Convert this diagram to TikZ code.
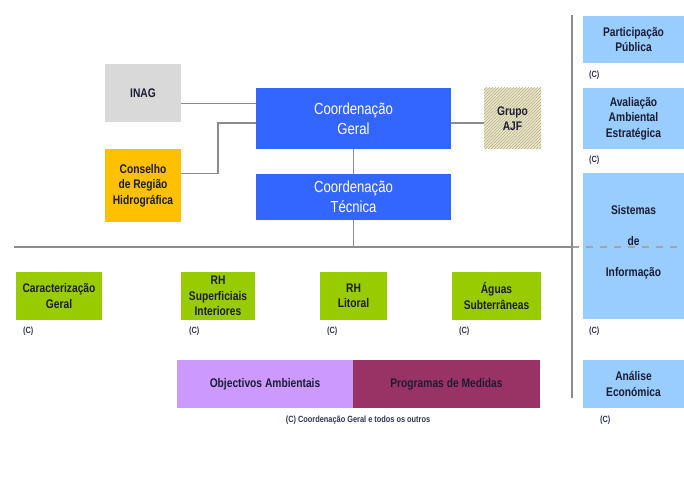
\documentclass[tikz,border=0pt]{standalone}
\usepackage{fontspec}
\setmainfont{Liberation Sans}[FakeStretch=0.82]
\usetikzlibrary{patterns}
\definecolor{inaggray}{HTML}{D9D9D9}
\definecolor{cblue}{HTML}{3366FF}
\definecolor{cgold}{HTML}{FFC000}
\definecolor{cbeige}{HTML}{ECE8CC}
\definecolor{chatch}{HTML}{B4AD84}
\definecolor{clight}{HTML}{99CCFF}
\definecolor{cgreen}{HTML}{99CC00}
\definecolor{cpurple}{HTML}{CC99FF}
\definecolor{cmaroon}{HTML}{993366}
\definecolor{txt}{HTML}{1C1C33}
\definecolor{cnote}{HTML}{2E3450}
\definecolor{linec}{HTML}{8C8C8C}
\begin{document}
\begin{tikzpicture}[x=1pt,y=-1pt,
  box/.style={draw=none, inner sep=1pt, align=center, text=txt,
    font=\bfseries\fontsize{12.5}{15.5}\selectfont},
  bigbox/.style={draw=none, fill=cblue, inner sep=1pt, align=center, text=white,
    minimum width=195pt, font=\fontsize{16}{20}\selectfont},
  note/.style={inner sep=0pt, anchor=west, text=cnote, font=\bfseries\fontsize{9}{10}\selectfont},
  conn/.style={draw=linec, line width=1.4pt}]
\useasboundingbox[fill=white] (0,0) rectangle (684,478);

% top group
\node[box, fill=inaggray, minimum width=76pt, minimum height=58pt] (inag) at (143,93) {INAG};
\node[box, fill=cgold, minimum width=76pt, minimum height=73pt] (cons) at (143,185.5) {Conselho\\de Região\\Hidrográfica};
\node[bigbox, minimum height=61pt] (cg) at (353.5,118.5) {Coordenação\\Geral};
\node[bigbox, minimum height=46pt] (ct) at (353.5,197) {Coordenação\\Técnica};
\node[box, fill=cbeige, postaction={pattern=north east lines, pattern color=chatch},
  minimum width=57pt, minimum height=61pt] (grupo) at (512.5,118.5) {Grupo\\AJF};

% right column
\node[box, fill=clight, minimum width=101pt, minimum height=47pt] (pp) at (633.5,39.5) {Participação\\Pública};
\node[box, fill=clight, minimum width=101pt, minimum height=61pt] (aae) at (633.5,118.5) {Avaliação\\Ambiental\\Estratégica};
\node[box, fill=clight, minimum width=101pt, minimum height=146pt, text depth=11pt,
  font=\bfseries\fontsize{12.5}{31}\selectfont] (si) at (633.5,246) {Sistemas\\de\\Informação};
\node[box, fill=clight, minimum width=101pt, minimum height=48pt] (ae) at (633.5,384) {Análise\\Económica};

% green row
\node[box, fill=cgreen, minimum width=86pt, minimum height=48pt] (cgeral) at (59,296) {Caracterização\\Geral};
\node[box, fill=cgreen, minimum width=74pt, minimum height=48pt] (rhs) at (218,296) {RH\\Superficiais\\Interiores};
\node[box, fill=cgreen, minimum width=67pt, minimum height=48pt] (rhl) at (353.5,296) {RH\\Litoral};
\node[box, fill=cgreen, minimum width=89pt, minimum height=48pt] (aguas) at (496.5,296) {Águas\\Subterrâneas};

% bottom bar
\node[box, fill=cpurple, minimum width=176pt, minimum height=48pt] (obj) at (265,384) {Objectivos Ambientais};
\node[box, fill=cmaroon, minimum width=187pt, minimum height=48pt] (prog) at (446.5,384) {Programas de Medidas};

% (C) notes
\node[note] (n1) at (589,75) {(C)};
\node[note] (n2) at (589,160) {(C)};
\node[note] (n3) at (589,331) {(C)};
\node[note] (n4) at (600,420) {(C)};
\node[note] (n5) at (23,331) {(C)};
\node[note] (n6) at (189,331) {(C)};
\node[note] (n7) at (327,331) {(C)};
\node[note] (n8) at (459,331) {(C)};
\node[inner sep=0pt, text=cnote, font=\bfseries\fontsize{9}{10}\selectfont] (cap) at (358,420) {(C) Coordenação Geral e todos os outros};

% connectors
\path (inag.north east) ++(0,40) coordinate (a1);
\draw[conn] (a1) -- (a1 -| cg.west);
\path (cons.north east) ++(0,25) coordinate (b1);
\coordinate (b2) at (218,123);
\draw[conn] (b1) -| (b2) -- (b2 -| cg.west);
\draw[conn] ([yshift=-4.5pt]cg.east) -- ([yshift=-4.5pt]cg.east -| grupo.west);
\draw[conn] (cg.south) -- (ct.north);
\coordinate (hl) at (14,247);
\coordinate (hr) at (572,247);
\coordinate (hd) at (684,247);
\draw[conn] (ct.south) -- (ct.south |- hl);
\draw[conn] (hl) -- (hr);
\draw[conn, draw=linec!80, dash pattern=on 7pt off 7pt] (hr) -- (hd);
\coordinate (st) at (572,15);
\coordinate (sb) at (572,398);
\draw[conn] (st) -- (sb);
\end{tikzpicture}
\end{document}
